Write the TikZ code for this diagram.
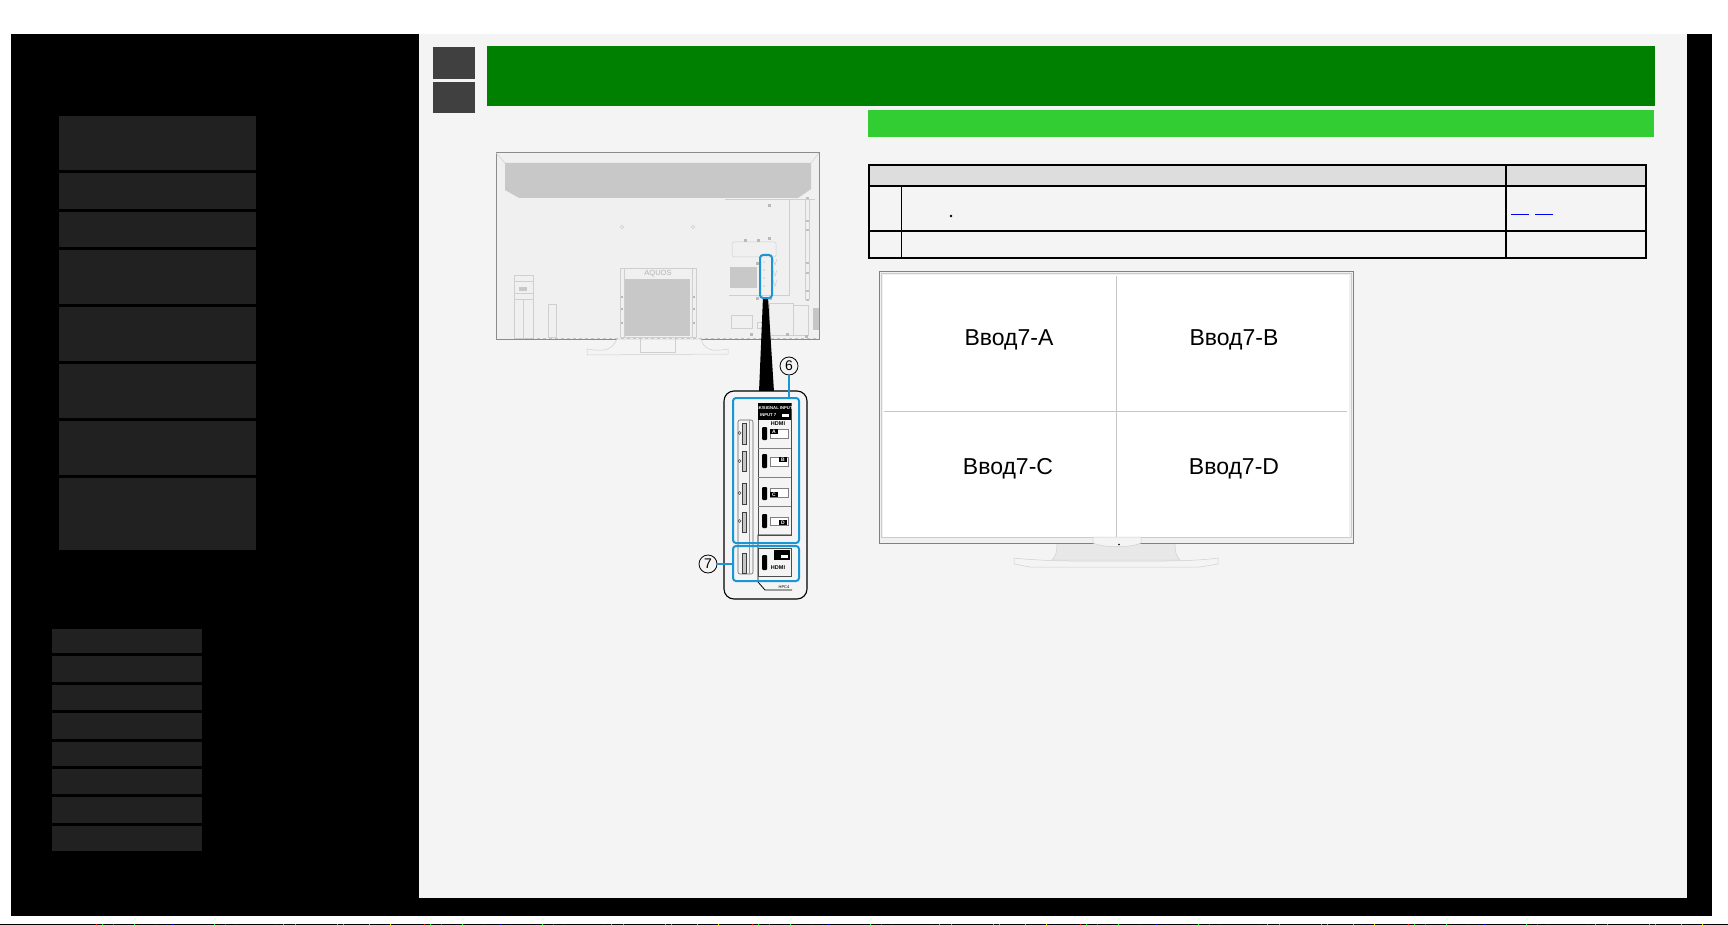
\documentclass[tikz,border=0pt]{standalone}
\usepackage{fontspec}
\setmainfont{Liberation Sans}
\usetikzlibrary{positioning,calc}
\definecolor{panelgrey}{HTML}{F4F4F4}
\definecolor{menugrey}{HTML}{212121}
\definecolor{darkbtn}{HTML}{404040}
\definecolor{headgreen}{HTML}{008000}
\definecolor{subgreen}{HTML}{32CD32}
\definecolor{calloutblue}{HTML}{1A96D6}
\definecolor{tvline}{HTML}{CFCFCF}
\definecolor{tvfill}{HTML}{C8C8C8}
\definecolor{tablehead}{HTML}{DDDDDD}
\tikzset{
    bluebox/.style={draw=calloutblue, line width=2pt, rounded corners=3pt, inner sep=0pt, anchor=north west},
    blueline/.style={draw=calloutblue, line width=2pt},
    callout/.style={draw=black, circle, line width=0.8pt, minimum size=18pt, inner sep=0pt, font=\fontsize{14}{14}\selectfont},
    tvpart/.style={draw=tvline, line width=0.5pt},
    tablerule/.style={line width=2pt, black},
    inputlabel/.style={font=\fontsize{23}{28}\selectfont},
    portlabel/.style={font=\bfseries\fontsize{5}{5}\selectfont, text=white, inner sep=0pt}
}
\begin{document}
\begin{tikzpicture}[x=1pt, y=-1pt]

    \useasboundingbox (0, 0) rectangle (1728, 925);
    \fill[white] (0, 0) rectangle (1728, 925);

    % page frame
    \fill[black] (11, 34) rectangle (1712, 916);
    \fill[panelgrey] (419, 34) rectangle (1687, 898);
    \fill[black] (0, 924) rectangle (1728, 925);
    \foreach \o in {88, 416, 744, 1072, 1400}
        \foreach \x/\c in {8/red, 14/green, 25/magenta, 46/green, 67/blue, 84/blue, 126/green, 137/red, 147/blue, 187/blue, 195/green, 207/green, 249/green, 255/orange, 281/green, 302/yellow}
            \fill[\c] (\o+\x, 924) rectangle (\o+1+\x, 925);

    % side menus
    \foreach \a/\b in {116/170, 173/209, 212/247, 250/304, 307/361, 364/418, 421/475, 478/550}
        \fill[menugrey] (59, \a) rectangle (256, \b);
    \foreach \a/\b in {629/653, 656/682, 685/710, 713/739, 742/766, 769/794, 797/823, 826/851}
        \fill[menugrey] (52, \a) rectangle (202, \b);

    % header
    \fill[darkbtn] (433, 47) rectangle (475, 79);
    \fill[darkbtn] (433, 82) rectangle (475, 113);
    \fill[headgreen] (487, 46) rectangle (1655, 106);
    \fill[subgreen] (868, 110) rectangle (1654, 137);

    % table
    \fill[tablehead] (868, 165) rectangle (1646, 186);
    \draw[tablerule] (869, 165) rectangle (1646, 258);
    \draw[tablerule] (869, 186) -- (1646, 186);
    \draw[tablerule] (869, 231) -- (1646, 231);
    \draw[tablerule] (1506, 165) -- (1506, 258);
    \draw[black, line width=1pt] (901.5, 186) -- (901.5, 258);
    \fill[black] (951, 216) circle (1.3);
    \fill[blue] (1511, 214) rectangle (1529, 215);
    \fill[blue] (1535, 214) rectangle (1553, 215);

    % tv seen from behind
    \draw[fill=gray!12!white, draw=gray!90!white, line width=1pt] (496, 153) rectangle (819, 339);
    \fill[tvfill] (505, 163) -- (811, 163) -- (811, 189) -- (798, 198) -- (519, 198) -- (505, 190) -- cycle;
    \draw[tvpart] (496, 153) -- (505, 163);
    \draw[tvpart] (819, 153) -- (811, 163);
    \draw[tvpart] (622, 227) circle (1.8);
    \draw[tvpart] (693, 227) circle (1.8);
    % wall mount
    \draw[tvpart] (620, 268) rectangle (696, 337);
    \draw[tvpart] (624, 268) -- (624, 337);
    \draw[tvpart] (692, 268) -- (692, 337);
    \fill[tvfill] (625, 279) rectangle (690, 336);
    \node[text=gray!60!white, font=\fontsize{7.5}{8}\selectfont] (logoback) at (658, 274) {AQUOS};
    \foreach \y in {297, 309, 323}
        \foreach \x in {622, 694}
            \fill[gray!70!white] (\x, \y) circle (1.2);
    % left strips
    \draw[tvpart] (514, 275) rectangle (533, 338);
    \draw[tvpart] (514, 281) -- (533, 281);
    \draw[tvpart] (514, 293) -- (533, 293);
    \draw[tvpart] (514, 299) -- (533, 299);
    \draw[tvpart] (523, 299) -- (523, 338);
    \draw[tvpart] (548, 304) rectangle (556, 337);
    \fill[tvfill] (519, 287) rectangle (527, 291);
    % terminals
    \draw[tvpart, rounded corners=1.5pt] (732, 242) rectangle (776, 257);
    \draw[tvpart] (725, 199) -- (815, 199);
    \draw[tvpart] (729, 295) -- (789, 295) -- (789, 199);
    \fill[tvfill] (730, 267) rectangle (757, 288);
    \draw[tvpart] (731, 315) rectangle (752, 328);
    \draw[tvpart] (757, 322) rectangle (764, 328);
    \draw[tvpart] (769, 303) rectangle (793, 335);
    \draw[tvpart] (793, 305) rectangle (808, 335);
    \draw[tvpart] (805, 199) -- (805, 300);
    \draw[tvpart] (809, 199) -- (809, 300);
    \foreach \y in {197, 220, 229, 262, 272, 290, 299}
        \fill[gray!50!white] (805.5, \y) rectangle (808.5, \y+2);
    \fill[gray!45!white] (813, 308) rectangle (819, 330);
    \foreach \x/\y in {756/262, 756/297, 769/297, 750/333, 786/333, 805/335, 768/204, 768/237, 744/239, 757/239}
        \fill[gray!55!white] (\x, \y) rectangle (\x+3, \y+3);
    \foreach \y in {259, 270, 280}
        \draw[tvpart] (773, \y) -- (775, \y+6) -- (777, \y);
    % bottom edge and stand
    \draw[gray!45!white, line width=1pt, dashed] (525, 338.5) -- (818, 338.5);
    \draw[tvpart, fill=panelgrey] (587, 349) .. controls (605, 352) and (612, 350) .. (617, 339) -- (701, 339) .. controls (704, 350) and (712, 352) .. (728, 349) -- (728, 354) -- (587, 355) -- cycle;
    \draw[tvpart] (640, 339) -- (640, 352) -- (675, 352) -- (675, 339);

    % zoom wedge
    \fill[black] (763, 297) -- (768, 297) -- (774, 392) -- (759, 392) -- cycle;
    \node[bluebox, minimum width=12pt, minimum height=43pt] (boxrear) at (759, 254) {};
    \foreach \y in {262, 270, 278, 286}
        \fill[gray!70!white] (764, \y) circle (0.6);

    % terminal close up
    \draw[fill=panelgrey, line width=1.1pt, rounded corners=10pt] (724, 391) rectangle (807, 599);
    \draw[gray!80!black, line width=0.6pt, rounded corners=2pt] (738, 420) rectangle (753, 574);
    \draw[gray!80!white, line width=0.5pt] (749, 420) -- (749, 574);
    \foreach \a/\b in {423/444, 451/471, 483/504, 512/532, 553/573} {
        \draw[fill=gray!45!white, draw=black!75!white, line width=0.6pt] (742, \a) rectangle (746, \b);
    }
    \foreach \y in {433, 461, 493, 521}
        \draw[black!70!white, line width=0.5pt] (739.5, \y) circle (1.5);

    % label plate
    \draw[black, line width=0.8pt] (791, 535) -- (758, 535) -- (758, 582) -- (765, 590) -- (792, 590);
    \draw[black!70!white, line width=0.6pt] (758, 403) rectangle (791, 535);
    \fill[black] (758, 403) rectangle (791, 420);
    \node[portlabel, font=\bfseries\fontsize{4.2}{5}\selectfont] (signaltext) at (774.5, 408) {4K/SIGNAL INPUT};
    \node[portlabel, font=\bfseries\fontsize{4.2}{5}\selectfont, anchor=west] (inputtext) at (760, 415.5) {INPUT 7};
    \fill[white] (782, 414) rectangle (789, 417);
    \node[font=\bfseries\fontsize{5.5}{6}\selectfont, inner sep=0pt] (hdmitop) at (778, 423.5) {HDMI};
    \foreach \y in {448, 477, 506}
        \draw[gray, line width=0.5pt] (758, \y) -- (791, \y);
    \foreach \a/\b in {427/440, 454/468, 487/500, 514/528, 555/570}
        \fill[black, rounded corners=1pt] (762, \a) rectangle (767, \b);

    % input tags
    \foreach \a/\b in {429/438, 457/466, 488/497, 517/525} {
        \draw[fill=white, draw=gray, line width=0.5pt] (770, \a) rectangle (788, \b);
    }
    \fill[black] (770, 429) rectangle (778, 434);
    \fill[black] (779, 457) rectangle (787, 462);
    \fill[black] (770, 492) rectangle (778, 497);
    \fill[black] (779, 520) rectangle (787, 525);
    \node[portlabel] (taga) at (774, 431.5) {A};
    \node[portlabel] (tagb) at (783, 459.5) {B};
    \node[portlabel] (tagc) at (774, 494.5) {C};
    \node[portlabel] (tagd) at (783, 522.5) {D};

    % lower input
    \draw[black!70!white, line width=0.6pt] (758, 548) rectangle (791, 576);
    \fill[black] (774, 550) rectangle (790, 560);
    \fill[white] (781, 555) rectangle (788, 558);
    \node[font=\bfseries\fontsize{5.5}{6}\selectfont, inner sep=0pt] (hdmilow) at (778, 568) {HDMI};
    \node[font=\fontsize{4}{4}\selectfont, inner sep=0pt] (hpclabel) at (784, 587) {HPC4};

    % callouts
    \node[bluebox, minimum width=66pt, minimum height=145pt] (boxsix) at (732, 397) {};
    \node[bluebox, minimum width=66pt, minimum height=35pt] (boxseven) at (732, 545) {};
    \node[callout] (callsix) at (789, 366) {6};
    \node[callout] (callseven) at (708, 564) {7};
    \draw[blueline] (callsix) -- (callsix |- boxsix.north);
    \draw[blueline] (callseven) -- (callseven -| boxseven.west);

    % tv seen from the front
    \draw[tvpart, fill=gray!18!white] (1057, 543) .. controls (1057, 552) and (1056, 556) .. (1052, 560) -- (1180, 560) .. controls (1176, 556) and (1175, 552) .. (1175, 543) -- cycle;
    \draw[tvpart, fill=panelgrey] (1014, 558) .. controls (1030, 560) and (1060, 561) .. (1070, 561) -- (1165, 561) .. controls (1180, 561) and (1205, 560) .. (1218, 558) -- (1218, 564) -- (1200, 567) -- (1030, 567) -- (1014, 564) -- cycle;
    \fill[gray!12!white] (879, 271) rectangle (1353, 543);
    \fill[white] (883, 275) rectangle (1349, 537);
    \draw[gray, line width=0.8pt] (879, 271) rectangle (1353, 543);
    \draw[gray!40!white, line width=0.8pt] (881, 273) rectangle (1351, 537);
    \draw[gray!45!white, line width=1pt] (1116, 276) -- (1116, 537);
    \draw[gray!45!white, line width=1pt] (884, 411) -- (1347, 411);
    \draw[tvpart, fill=panelgrey] (1093, 537) -- (1141, 537) -- (1141, 543) .. controls (1130, 548) and (1104, 548) .. (1093, 543) -- cycle;
    \fill[black] (1119, 544.5) circle (0.9);

    \node[inputlabel] (inputa) at (1009, 340) {Ввод7-A};
    \node[inputlabel] (inputb) at (1234, 340) {Ввод7-B};
    \node[inputlabel] (inputc) at (1008, 469) {Ввод7-C};
    \node[inputlabel] (inputd) at (1234, 469) {Ввод7-D};

\end{tikzpicture}
\end{document}
